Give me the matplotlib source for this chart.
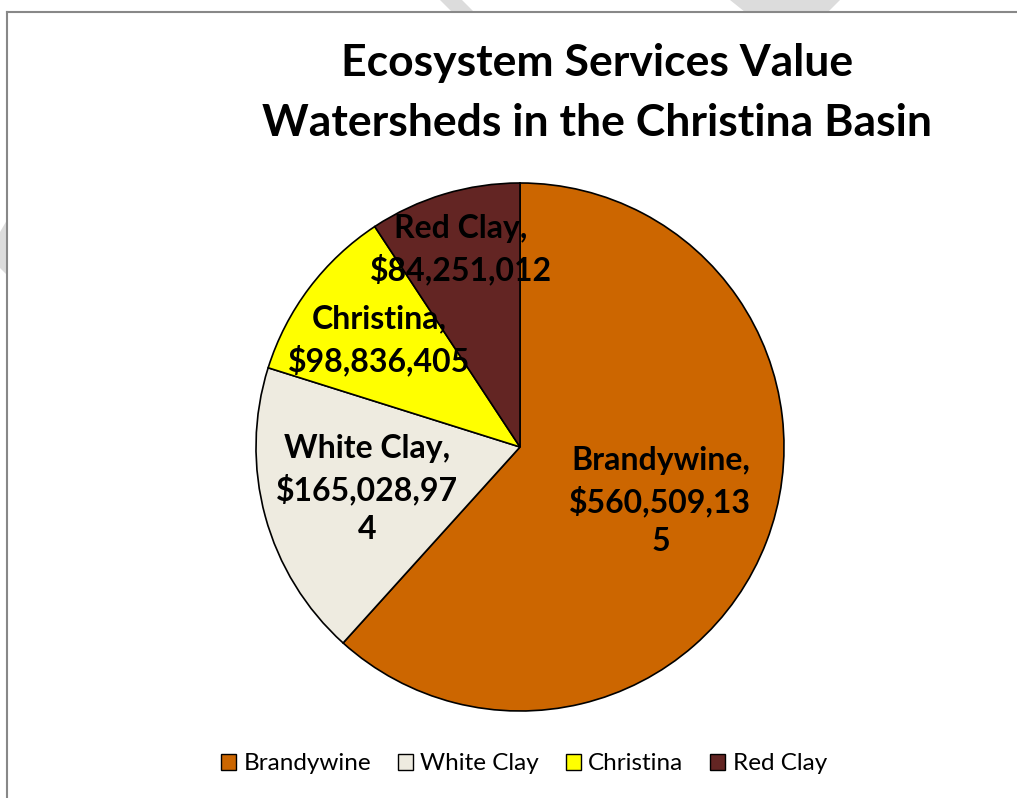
import textwrap
import numpy as np
import matplotlib.pyplot as plt
from matplotlib.lines import Line2D
from matplotlib.patches import Polygon

# Watershed values (USD)
names = ['Brandywine', 'White Clay', 'Christina', 'Red Clay']
values = [560509135, 165028974, 98836405, 84251012]
colors = ['#CC6600', '#EEEBE0', '#FFFF00', '#632523']
label_r = [0.57, 0.60, 0.67, 0.78]  # radial position of each data label

title = 'Ecosystem Services Value\nWatersheds in the Christina Basin'

plt.rcParams['font.family'] = ['Lato', 'DejaVu Sans']

W, H = 1017, 798
fig = plt.figure(figsize=(W / 100, H / 100), dpi=100)
ax = fig.add_axes([0, 0, 1, 1])

cx, cy, R = 520, H - 447, 264
wedges, _ = ax.pie(values, colors=colors, startangle=90, counterclock=False,
                   center=(cx, cy), radius=R, frame=True,
                   wedgeprops=dict(edgecolor='black', linewidth=1.2))
ax.set_xlim(0, W)
ax.set_ylim(0, H)
ax.set_aspect('equal')
ax.axis('off')

# data labels: "Name,\n$value" wrapped like the spreadsheet does
for w, name, v, rf in zip(wedges, names, values, label_r):
    mid = np.deg2rad((w.theta1 + w.theta2) / 2)
    x = cx + rf * R * np.cos(mid)
    y = cy + rf * R * np.sin(mid)
    txt = name + ',\n' + textwrap.fill('${:,}'.format(v), 11)
    ax.text(x, y, txt, ha='center', va='center', fontsize=23,
            fontweight='bold', linespacing=1.4)

fig.text(597 / W, 1 - 93 / H, title, ha='center', va='center',
         fontsize=32, fontweight='bold', linespacing=1.58)

fig.legend(wedges, names, loc='center', bbox_to_anchor=(524 / W, 1 - 764 / H),
           ncol=4, frameon=False, fontsize=17.5, handlelength=0.62,
           handleheight=0.62, handletextpad=0.3, columnspacing=1.1)
for h in fig.legends[0].legend_handles:
    h.set_linewidth(1.0)

# faint watermark bits and the chart border
for pts in [[(440, 0), (462, 0), (474, 12), (452, 12)],
            [(730, 0), (840, 0), (828, 12), (745, 12)],
            [(0, 232), (7, 220), (7, 275), (0, 268)]]:
    fig.add_artist(Polygon([(px / W, 1 - py / H) for px, py in pts],
                           closed=True, transform=fig.transFigure,
                           facecolor='#dcdcdc', edgecolor='none', zorder=0))
fig.add_artist(Line2D([7 / W, 7 / W], [0, 1 - 12 / H], color='#888888', lw=1.5))
fig.add_artist(Line2D([7 / W, 1], [1 - 12 / H, 1 - 12 / H], color='#888888', lw=1.5))

fig.savefig('out.png', dpi=100)
